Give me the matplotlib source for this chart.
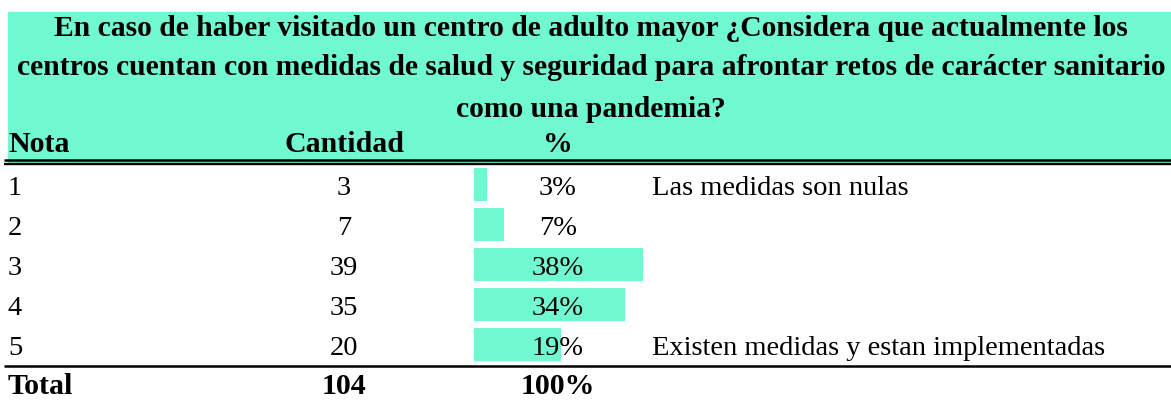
import matplotlib
matplotlib.use('Agg')
import matplotlib.pyplot as plt
from matplotlib.patches import Rectangle

plt.rcParams['font.family'] = ['Liberation Serif', 'DejaVu Serif']

titulo = ['En caso de haber visitado un centro de adulto mayor ¿Considera que actualmente los',
          'centros cuentan con medidas de salud y seguridad para afrontar retos de carácter sanitario',
          'como una pandemia?']
encabezados = ['Nota', 'Cantidad', '%']
notas = ['1', '2', '3', '4', '5']
cantidad = [3, 7, 39, 35, 20]
comentarios = ['Las medidas son nulas', '', '', '', 'Existen medidas y estan implementadas']

total = sum(cantidad)
pct = [c / total for c in cantidad]
teal = '#70F8D0'

W, H = 1171, 400
fig = plt.figure(figsize=(W / 100, H / 100), dpi=100)

# data bars (excel style) in their own axes, under the table text
bx = fig.add_axes([474 / W, (H - 364.5) / H, 450 / W, 200 / H], zorder=0)
bx.barh(range(len(pct)), pct, height=0.82, color=teal)
bx.set_xlim(0, 1)
bx.set_ylim(len(pct) - 0.5, -0.5)
bx.axis('off')

# table layout in pixel units
ax = fig.add_axes([0, 0, 1, 1], zorder=1)
ax.patch.set_visible(False)
ax.set_xlim(0, W)
ax.set_ylim(H, 0)
ax.axis('off')

ax.add_patch(Rectangle((8, 12), W, 151, color=teal, zorder=0))
ax.plot([4, W], [159.8, 159.8], color='black', lw=1.8, solid_capstyle='butt')
ax.plot([4, W], [164.0, 164.0], color='black', lw=1.7, solid_capstyle='butt')
ax.plot([4, W], [365.5, 365.5], color='black', lw=1.8, solid_capstyle='butt')

fs_t = 21.5
fs_b = 20.5
clip = Rectangle((0, 0), W, 119, transform=ax.transData)
for i, line in enumerate(titulo):
    t = ax.text(591, [36, 75, 117][i], line, ha='center', va='baseline',
                fontsize=21.3, fontweight='bold')
    t.set_clip_path(clip)

hx = [8, 344, 558]
ha = ['left', 'center', 'center']
for x, a, h in zip(hx, ha, encabezados):
    ax.text(x, 152, h, ha=a, va='baseline', fontsize=fs_t, fontweight='bold')

for i in range(len(notas)):
    y = 195 + 40 * i
    ax.text(8, y, notas[i], ha='left', va='baseline', fontsize=fs_b)
    ax.text(344, y, str(cantidad[i]), ha='center', va='baseline', fontsize=fs_b)
    ax.text(558, y, '%d%%' % int(pct[i] * 100 + 0.5), ha='center', va='baseline', fontsize=fs_b)
    if comentarios[i]:
        ax.text(652, y, comentarios[i], ha='left', va='baseline', fontsize=fs_b)

ax.text(8, 394, 'Total', ha='left', va='baseline', fontsize=fs_t, fontweight='bold')
ax.text(344, 394, str(total), ha='center', va='baseline', fontsize=fs_t, fontweight='bold')
ax.text(558, 394, '%d%%' % round(sum(pct) * 100), ha='center', va='baseline',
        fontsize=fs_t, fontweight='bold')

fig.savefig('out.png', dpi=100)
